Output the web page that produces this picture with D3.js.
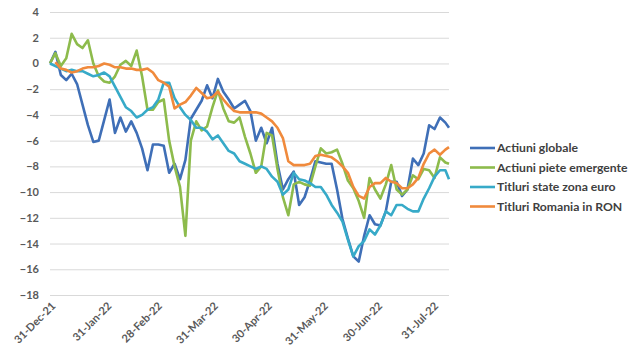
<!DOCTYPE html>
<html>
<head>
<meta charset="utf-8">
<script src="https://cdn.jsdelivr.net/npm/d3@7"></script>
<style>
  body { margin: 0; background: #fff; }
  svg { display: block; font-family: Lato, "Open Sans", sans-serif; }
</style>
</head>
<body>
<svg width="643" height="354"></svg>
<script>
let dates = [
  "2021-12-31","2022-01-03","2022-01-06","2022-01-09","2022-01-12","2022-01-15","2022-01-18","2022-01-21",
  "2022-01-24","2022-01-27","2022-01-30","2022-02-02","2022-02-05","2022-02-08","2022-02-11","2022-02-14",
  "2022-02-17","2022-02-20","2022-02-23","2022-02-26","2022-03-01","2022-03-04","2022-03-07","2022-03-10",
  "2022-03-13","2022-03-16","2022-03-19","2022-03-22","2022-03-25","2022-03-28","2022-03-31","2022-04-03",
  "2022-04-06","2022-04-09","2022-04-12","2022-04-15","2022-04-18","2022-04-21","2022-04-24","2022-04-27",
  "2022-04-30","2022-05-03","2022-05-06","2022-05-09","2022-05-12","2022-05-15","2022-05-18","2022-05-21",
  "2022-05-24","2022-05-27","2022-05-30","2022-06-02","2022-06-05","2022-06-08","2022-06-11","2022-06-14",
  "2022-06-17","2022-06-20","2022-06-23","2022-06-26","2022-06-29","2022-07-02","2022-07-05","2022-07-08",
  "2022-07-11","2022-07-14","2022-07-17","2022-07-20","2022-07-23","2022-07-26","2022-07-29","2022-08-01",
  "2022-08-04","2022-08-07","2022-08-09"
];

let actiuniGlobale = [
  0, 0.9, -0.9, -1.3, -0.8, -1.6, -3.2, -4.8, -6.1, -6.0, -4.4, -2.8, -5.4, -4.2, -5.3, -4.5,
  -5.4, -6.6, -8.3, -6.3, -6.3, -6.4, -8.5, -7.8, -9.0, -7.5, -4.3, -3.6, -2.9, -1.7, -2.7, -1.2,
  -2.2, -2.8, -3.5, -3.2, -2.9, -3.7, -6.0, -5.0, -6.2, -5.0, -7.8, -9.8, -9.0, -8.4, -11.0, -10.4,
  -9.1, -7.6, -7.7, -7.8, -7.8, -9.8, -12.1, -13.6, -15.0, -15.4, -13.4, -11.8, -12.5, -12.6, -11.5, -9.2,
  -9.2, -10.3, -9.8, -7.4, -7.9, -7.0, -4.8, -5.1, -4.2, -4.6, -5.0
];

let actiuniEmergente = [
  0, 0.8, -0.2, 0.4, 2.3, 1.5, 1.2, 1.8, 0, -1.0, -1.4, -1.5, -1.0, -0.1, 0.2, -0.2,
  1.0, -1.0, -3.6, -3.6, -3.0, -2.8, -6.0, -8.0, -9.6, -13.4, -6.0, -4.5, -5.2, -4.9, -3.4, -2.1,
  -3.5, -4.5, -4.6, -4.2, -5.7, -7.0, -8.5, -8.0, -5.4, -5.6, -8.2, -10.4, -11.8, -9.4, -9.2, -9.4,
  -9.5, -8.0, -6.6, -7.0, -6.9, -6.7, -7.8, -9.1, -9.7, -10.7, -12.0, -8.9, -9.8, -10.5, -9.4, -7.9,
  -9.8, -10.2, -9.8, -8.7, -9.0, -8.2, -8.3, -8.9, -7.3, -7.7, -7.8
];

let titluriZonaEuro = [
  0, -0.2, -0.4, -0.6, -0.5, -0.6, -0.6, -0.8, -1.0, -0.9, -0.7, -1.0, -1.8, -2.6, -3.4, -3.7,
  -4.2, -4.0, -3.6, -3.4, -2.8, -1.5, -1.5, -2.7, -3.4, -4.0, -4.4, -5.0, -5.0, -5.3, -5.9, -5.6,
  -6.2, -6.8, -7.0, -7.6, -7.8, -8.0, -8.2, -8.0, -8.2, -8.8, -9.2, -10.2, -9.8, -8.5, -9.0, -9.1,
  -9.3, -9.6, -9.6, -10.2, -11.0, -11.6, -12.3, -13.7, -15.0, -14.2, -13.8, -12.9, -13.3, -12.6, -11.5, -11.8,
  -11.0, -11.0, -11.3, -11.5, -11.5, -10.5, -9.7, -8.8, -8.3, -8.3, -9.0
];

let titluriRomania = [
  null, 0.1, -0.4, -0.5, -0.7, -0.6, -0.4, -0.3, -0.3, -0.2, 0, -0.1, -0.3, -0.3, -0.4, -0.4,
  -0.5, -0.5, -0.4, -0.7, -1.3, -1.5, -1.8, -3.5, -3.2, -3.0, -2.5, -1.9, -2.3, -2.7, -2.6, -2.2,
  -2.8, -3.3, -3.7, -3.8, -3.8, -3.8, -3.8, -3.9, -4.2, -4.5, -5.0, -5.8, -7.6, -7.9, -7.9, -7.9,
  -7.8, -7.2, -7.1, -7.2, -7.3, -7.6, -8.0, -8.5, -9.6, -10.3, -10.5, -9.6, -9.3, -9.3, -8.9, -9.2,
  -9.3, -9.7, -9.7, -9.4, -8.9, -7.8, -7.0, -6.7, -7.1, -6.7, -6.5
];

let seriesNames = ["Actiuni globale", "Actiuni piete emergente", "Titluri state zona euro", "Titluri Romania in RON"];
let seriesValues = [actiuniGlobale, actiuniEmergente, titluriZonaEuro, titluriRomania];
let colors = ["#3f6fb7", "#8dbb4c", "#37aac8", "#f08a3c"];

let xTicks = ["2021-12-31","2022-01-31","2022-02-28","2022-03-31","2022-04-30","2022-05-31","2022-06-30","2022-07-31"];
let yTicks = [4, 2, 0, -2, -4, -6, -8, -10, -12, -14, -16, -18];

let parse = d3.timeParse("%Y-%m-%d");
let fmt = d3.timeFormat("%d-%b-%y");

let svg = d3.select("svg");
let margin = {top: 12, left: 50};
let plotRight = 449, plotBottom = 295;

let x = d3.scaleTime()
  .domain([parse(dates[0]), parse(dates[dates.length - 1])])
  .range([margin.left, plotRight]);

let y = d3.scaleLinear()
  .domain([-18, 4])
  .range([plotBottom, margin.top]);

// gridlines + y labels
let yAxis = g => g
  .attr("transform", `translate(${margin.left},0)`)
  .call(d3.axisLeft(y).tickValues(yTicks).tickSize(-(plotRight - margin.left)).tickPadding(11))
  .call(g => g.select(".domain").remove())
  .call(g => g.selectAll(".tick line").attr("stroke", "#d9d9d9").attr("stroke-width", 1))
  .call(g => g.selectAll(".tick text")
    .attr("fill", "#595959").attr("font-size", 11).attr("font-weight", 700)
    .attr("font-family", "Lato, sans-serif"));

svg.append("g").call(yAxis);

// x labels, rotated like the excel original
let xAxis = g => g
  .attr("transform", `translate(0,${plotBottom})`)
  .call(d3.axisBottom(x).tickValues(xTicks.map(parse)).tickFormat(fmt).tickSize(0))
  .call(g => g.select(".domain").remove())
  .call(g => g.selectAll(".tick text")
    .attr("fill", "#595959").attr("font-size", 11).attr("font-weight", 700)
    .attr("font-family", "Lato, sans-serif")
    .attr("text-anchor", "end")
    .attr("dy", "0.35em")
    .attr("transform", "translate(3,9) rotate(-45)")
    .attr("y", 0));

svg.append("g").call(xAxis);

let line = d3.line()
  .defined(d => d.value != null)
  .x(d => x(d.date))
  .y(d => y(d.value));

seriesValues.forEach((vals, i) => {
  let pts = dates.map((d, j) => ({date: parse(d), value: vals[j]}));
  svg.append("path")
    .datum(pts)
    .attr("fill", "none")
    .attr("stroke", colors[i])
    .attr("stroke-width", 2.6)
    .attr("stroke-linejoin", "round")
    .attr("d", line);
});

// legend
let legend = svg.append("g")
  .selectAll("g").data(seriesNames).enter().append("g")
  .attr("transform", (d, i) => `translate(470,${148 + i * 19.5})`);

legend.append("line")
  .attr("x1", 0).attr("x2", 25)
  .attr("stroke", (d, i) => colors[i])
  .attr("stroke-width", 2.6);

legend.append("text")
  .attr("x", 27).attr("dy", "0.35em")
  .attr("fill", "#404040").attr("font-size", 12.2).attr("font-weight", 700)
  .text(d => d);
</script>
</body>
</html>
